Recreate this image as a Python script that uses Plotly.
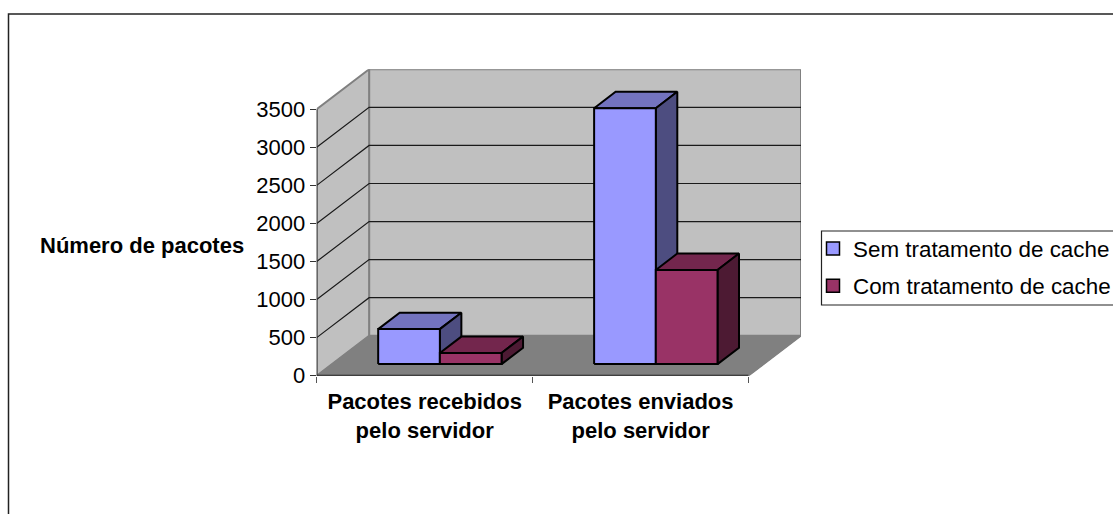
import plotly.graph_objects as go

categories = ["Pacotes recebidos<br>pelo servidor", "Pacotes enviados<br>pelo servidor"]
series_names = ["Sem tratamento de cache", "Com tratamento de cache"]
sem_cache = [460, 3362]
com_cache = [146, 1237]
value_ticks = [0, 500, 1000, 1500, 2000, 2500, 3000, 3500]
front_colors = ["#9999FF", "#993366"]
top_colors = ["#7373BF", "#73264D"]
side_colors = ["#4D4D80", "#4D1A33"]

W, H = 1113, 514
LEFT, RIGHT, BOTTOM, TOP = 316.7, 801.0, 375.7, 69.3
DEPTH_X = 0.2427      # depth of the 3D box, category units
DEPTH_Y = 525.0       # depth of the 3D box, value units
D0, D1 = 0.29, 0.70   # bar depth span
GAP, BAR = 0.2143, 0.2857
YMAX = 3500
FONT = "Liberation Sans, Arial, sans-serif"


def proj(x, v, d):
    return x + d * DEPTH_X, v + d * DEPTH_Y


def poly(points, fill=None, line=None, width=1.0):
    xs, ys = zip(*[proj(*p) for p in points])
    return go.Scatter(
        x=list(xs), y=list(ys), mode="lines",
        fill="toself" if fill else None, fillcolor=fill,
        line=dict(color=line or "rgba(0,0,0,0)", width=width if line else 0),
        hoverinfo="skip", showlegend=False, cliponaxis=False,
    )


fig = go.Figure()
n = len(categories)
# walls and floor
fig.add_trace(poly([(0, 0, 1), (n, 0, 1), (n, YMAX, 1), (0, YMAX, 1), (0, 0, 1)], "#C0C0C0", "#808080", 2))
fig.add_trace(poly([(0, 0, 0), (0, 0, 1), (0, YMAX, 1), (0, YMAX, 0), (0, 0, 0)], "#C0C0C0", "#808080", 2))
fig.add_trace(poly([(0, 0, 0), (n, 0, 0), (n, 0, 1), (0, 0, 1), (0, 0, 0)], "#808080", "#808080", 1))
# gridlines (the top one coincides with the wall edge)
for v in value_ticks[1:-1]:
    fig.add_trace(poly([(0, v, 0), (0, v, 1), (n, v, 1)], None, "#1a1a1a", 1.2))
# axis lines
fig.add_trace(poly([(0, 0, 0), (0, YMAX, 0)], None, "#333333", 1.5))
fig.add_trace(poly([(0, 0, 0), (n, 0, 0)], None, "#222222", 2))
fig.add_trace(poly([(n, 0, 0), (n, 0, 1)], None, "#808080", 1.5))
# bars
for c in range(n):
    for s, vals in enumerate([sem_cache, com_cache]):
        x0 = c + GAP + s * BAR
        x1 = x0 + BAR
        v = vals[c]
        fig.add_trace(poly([(x0, v, D0), (x1, v, D0), (x1, v, D1), (x0, v, D1), (x0, v, D0)], top_colors[s], "black", 2))
        fig.add_trace(poly([(x1, 0, D0), (x1, 0, D1), (x1, v, D1), (x1, v, D0), (x1, 0, D0)], side_colors[s], "black", 2))
        fig.add_trace(poly([(x0, 0, D0), (x1, 0, D0), (x1, v, D0), (x0, v, D0), (x0, 0, D0)], front_colors[s], "black", 2))
# legend entries
for s, name in enumerate(series_names):
    fig.add_trace(go.Scatter(
        x=[None], y=[None], mode="markers", name=name, legendgroup=name,
        marker=dict(symbol="square", size=13, color=front_colors[s], line=dict(color="black", width=1.5)),
    ))
# invisible trace bound to the second x axis (category labels)
fig.add_trace(go.Scatter(x=[None], y=[None], xaxis="x2", showlegend=False, hoverinfo="skip"))

xdom = [LEFT / W, RIGHT / W]
xrange = [0, n + DEPTH_X]
fig.update_layout(
    width=W, height=H, margin=dict(l=0, r=0, t=0, b=0, autoexpand=False),
    paper_bgcolor="white", plot_bgcolor="white",
    font=dict(family=FONT, size=22, color="black"),
    xaxis=dict(domain=xdom, range=xrange, tickvals=[0, 1, 2], ticktext=["", "", ""],
               ticks="outside", ticklen=6, tickwidth=1, tickcolor="#555555",
               showgrid=False, zeroline=False, showline=False),
    xaxis2=dict(domain=xdom, range=xrange, overlaying="x", anchor="y", side="bottom",
                tickmode="array", tickvals=[0.5, 1.5], ticktext=categories,
                ticks="outside", ticklen=6, tickcolor="rgba(0,0,0,0)",
                tickfont=dict(family=FONT, size=22, color="black", weight="bold"),
                showgrid=False, zeroline=False, showline=False),
    yaxis=dict(domain=[(H - BOTTOM) / H, (H - TOP) / H], range=[0, YMAX + DEPTH_Y],
               tickvals=value_ticks, ticks="outside", ticklen=6, tickwidth=1, tickcolor="#333333",
               tickfont=dict(family=FONT, size=22, color="black"),
               showgrid=False, zeroline=False, showline=False),
    legend=dict(x=822 / W, y=(H - 227.5) / H, xanchor="left", yanchor="top",
                borderwidth=0, bgcolor="rgba(0,0,0,0)",
                font=dict(family=FONT, size=22.4, color="black"),
                indentation=-9, tracegroupgap=5),
    annotations=[dict(text="<b>Número de pacotes</b>", xref="paper", yref="paper",
                      x=142 / W, y=(H - 246) / H, xanchor="center", yanchor="middle", showarrow=False,
                      font=dict(family=FONT, size=22, color="black"))],
    shapes=[
        dict(type="rect", xref="paper", yref="paper", x0=8.5 / W, x1=1.02, y0=-0.02, y1=(H - 14) / H,
             line=dict(color="#222222", width=1.5), layer="below"),
        dict(type="rect", xref="paper", yref="paper", x0=821.5 / W, x1=1.02, y0=(H - 305) / H, y1=(H - 231) / H,
             line=dict(color="#222222", width=1.2), fillcolor="white", layer="below"),
    ],
)

fig.write_html("out.html", config=dict(displayModeBar=False),
               post_script="document.body.style.margin='0';document.body.style.overflow='hidden';")
